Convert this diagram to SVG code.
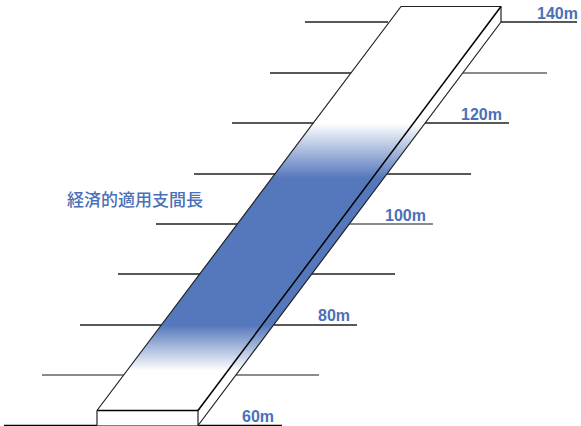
<svg xmlns="http://www.w3.org/2000/svg" width="581" height="426" viewBox="0 0 581 426">
<style>
.g{stroke:#222;stroke-width:1.3;fill:none}
.m{stroke:#666;stroke-width:1.7;fill:none}
.e{stroke:#222;stroke-width:1.2;fill:none;stroke-linejoin:round}
.k{stroke:#000;stroke-width:1.5;fill:none}
text{font-family:"Liberation Sans",Arial,sans-serif;font-weight:700;font-size:16px;fill:#4a70b8}
.j{font-family:"Noto Sans CJK JP","Liberation Sans",sans-serif;font-weight:500;font-size:17px}
</style>
<defs>
<linearGradient id="b" gradientUnits="userSpaceOnUse" x1="0" y1="123" x2="0" y2="371">
<stop offset="0" stop-color="#5578bc" stop-opacity="0"/>
<stop offset="0.222" stop-color="#5578bc"/>
<stop offset="0.815" stop-color="#5578bc"/>
<stop offset="1" stop-color="#5578bc" stop-opacity="0"/>
</linearGradient>
</defs>
<g id="connectors">
<path class="g" d="M305 22H388M270 73H353M232 123H316M194 174H278M156 224H240M118 274H202M80 325H164"/>
<path class="m" d="M42 375H125M463 73H547M349 224H433"/>
<path class="g" d="M501 22H577M425 123H509M387 174H471M311 274H395M274 325H357"/>
<path class="m" d="M236 375H319"/>
<path class="k" d="M4 425.500H282"/>
</g>
<g id="slab">
<path d="M97 410.500L401 6.500H501L198 410.500Z" fill="#fff"/>
<path d="M198 410.500L501 6.500V22L198 425.500Z" fill="#fff"/>
<path d="M97 410.500L401 6.500H501L198 410.500Z" fill="url(#b)"/>
<path d="M198 410.500L501 6.500V22L198 425.500Z" fill="url(#b)"/>
<rect x="97" y="410.500" width="101" height="15" fill="#fff"/>
<path class="e" d="M97 410.500L401 6.500H501V22L198 425.500V410.500H97V425.500"/>
<path class="k" d="M198 410.500L501 6.500"/>
<path class="k" d="M97 410.500H198"/>
</g>
<g id="label-60"><text x="242" y="422">60m</text></g>
<g id="label-80"><text x="318" y="321">80m</text></g>
<g id="label-100"><text x="385" y="221">100m</text></g>
<g id="label-120"><text x="461" y="120">120m</text></g>
<g id="label-140"><text x="537" y="19">140m</text></g>
<g id="label-main"><text class="j" x="67" y="206">経済的適用支間長</text></g>
</svg>
